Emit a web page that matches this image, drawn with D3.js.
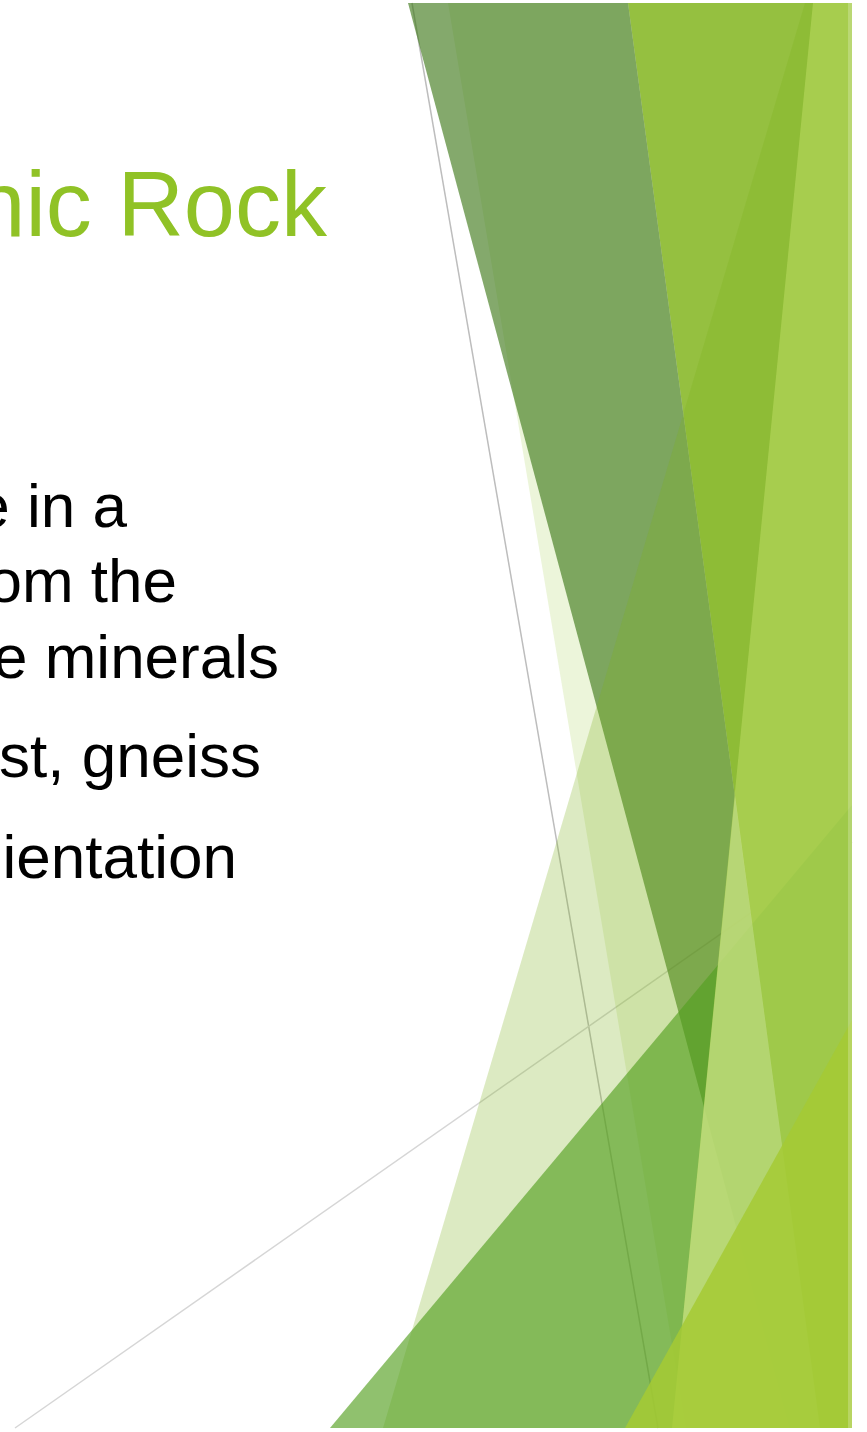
<!DOCTYPE html>
<html>
<head>
<meta charset="utf-8">
<script src="https://cdn.jsdelivr.net/npm/d3@7"></script>
<style>
  html, body { margin: 0; padding: 0; background: #fff; }
  #slide { width: 867px; height: 1432px; overflow: hidden; }
  text { font-family: "Liberation Sans", Arial, sans-serif; }
</style>
</head>
<body>
<div id="slide"></div>
<script>
// slide text (crop of a wider slide, left part is cut off)
const titleText = "Metamorphic Rock";
const bodyLines = ["e in a", "om the", "e minerals", "st, gneiss", "ientation"];

// facet shapes, vertices in slide pixels
const veilFacet = [[448, 3], [852, 3], [852, 1428], [686, 1428]];
const brightFacet = [[628, 3], [852, 3], [852, 1428], [820, 1428]];
const darkFacet = [[408, 3], [628, 3], [820, 1428], [790, 1428]];
const paleFacet = [[805, 3], [852, 3], [852, 1428], [383, 1428]];
const midFacet = [[330, 1428], [852, 805], [852, 1428]];
const lightFacet = [[813, 3], [852, 3], [852, 1428], [672, 1428]];
const sheenFacet = [[735, 795], [820, 1428], [672, 1428]];
const limeFacet = [[625, 1428], [852, 1020], [852, 1428]];

// thin rules
const steepRule = [[412, 3], [658, 1428]];
const flatRule = [[15, 1428], [852, 842]];

const width = 867;
const height = 1432;

const x = d3.scaleLinear().domain([0, 867]).range([0, width]);
const y = d3.scaleLinear().domain([0, 1432]).range([0, height]);

const svg = d3
  .select("#slide")
  .append("svg")
  .attr("width", width)
  .attr("height", height);

svg.append("rect").attr("width", width).attr("height", height).attr("fill", "#fff");

const line = d3.line().x((d) => x(d[0])).y((d) => y(d[1]));
const poly = d3
  .line()
  .x((d) => x(d[0]))
  .y((d) => y(d[1]))
  .curve(d3.curveLinearClosed);

const rules = [
  { pts: steepRule, color: "#bdbdbd" },
  { pts: flatRule, color: "#d6d6d6" },
];

svg
  .selectAll(".rule")
  .data(rules)
  .enter()
  .append("path")
  .attr("class", "rule")
  .attr("d", (d) => line(d.pts))
  .attr("fill", "none")
  .attr("stroke", (d) => d.color)
  .attr("stroke-width", 1.5);

// back to front
const facets = [
  { pts: veilFacet, fill: "#90c226", alpha: 0.17 },
  { pts: brightFacet, fill: "rgb(144,189,56)", alpha: 0.95 },
  { pts: darkFacet, fill: "rgb(63,120,25)", alpha: 0.64 },
  { pts: paleFacet, fill: "rgb(125,176,30)", alpha: 0.27 },
  { pts: midFacet, fill: "#54a021", alpha: 0.65 },
  { pts: lightFacet, fill: "rgb(174,210,85)", alpha: 0.78 },
  { pts: sheenFacet, fill: "rgb(232,245,195)", alpha: 0.3 },
  { pts: limeFacet, fill: "rgb(165,202,52)", alpha: 0.85 },
];

svg
  .selectAll(".facet")
  .data(facets)
  .enter()
  .append("path")
  .attr("class", "facet")
  .attr("d", (d) => poly(d.pts))
  .attr("fill", (d) => d.fill)
  .attr("fill-opacity", (d) => d.alpha);

// faint light edge on the right border
svg
  .append("rect")
  .attr("x", x(848))
  .attr("y", y(3))
  .attr("width", x(852) - x(848))
  .attr("height", y(1428) - y(3))
  .attr("fill", "#fff")
  .attr("fill-opacity", 0.22);

// title
svg
  .append("text")
  .attr("x", x(327))
  .attr("y", y(236))
  .attr("text-anchor", "end")
  .attr("font-size", 92)
  .attr("fill", "#90c226")
  .text(titleText);

// body lines, right-aligned to where they end in the crop
const bodyRight = [127, 177, 279, 261, 237];
const bodyBase = [527, 602, 678, 777, 878];

svg
  .selectAll(".body")
  .data(bodyLines)
  .enter()
  .append("text")
  .attr("class", "body")
  .attr("x", (d, i) => x(bodyRight[i]))
  .attr("y", (d, i) => y(bodyBase[i]))
  .attr("text-anchor", "end")
  .attr("font-size", 62)
  .attr("fill", "#000")
  .text((d) => d);
</script>
</body>
</html>
